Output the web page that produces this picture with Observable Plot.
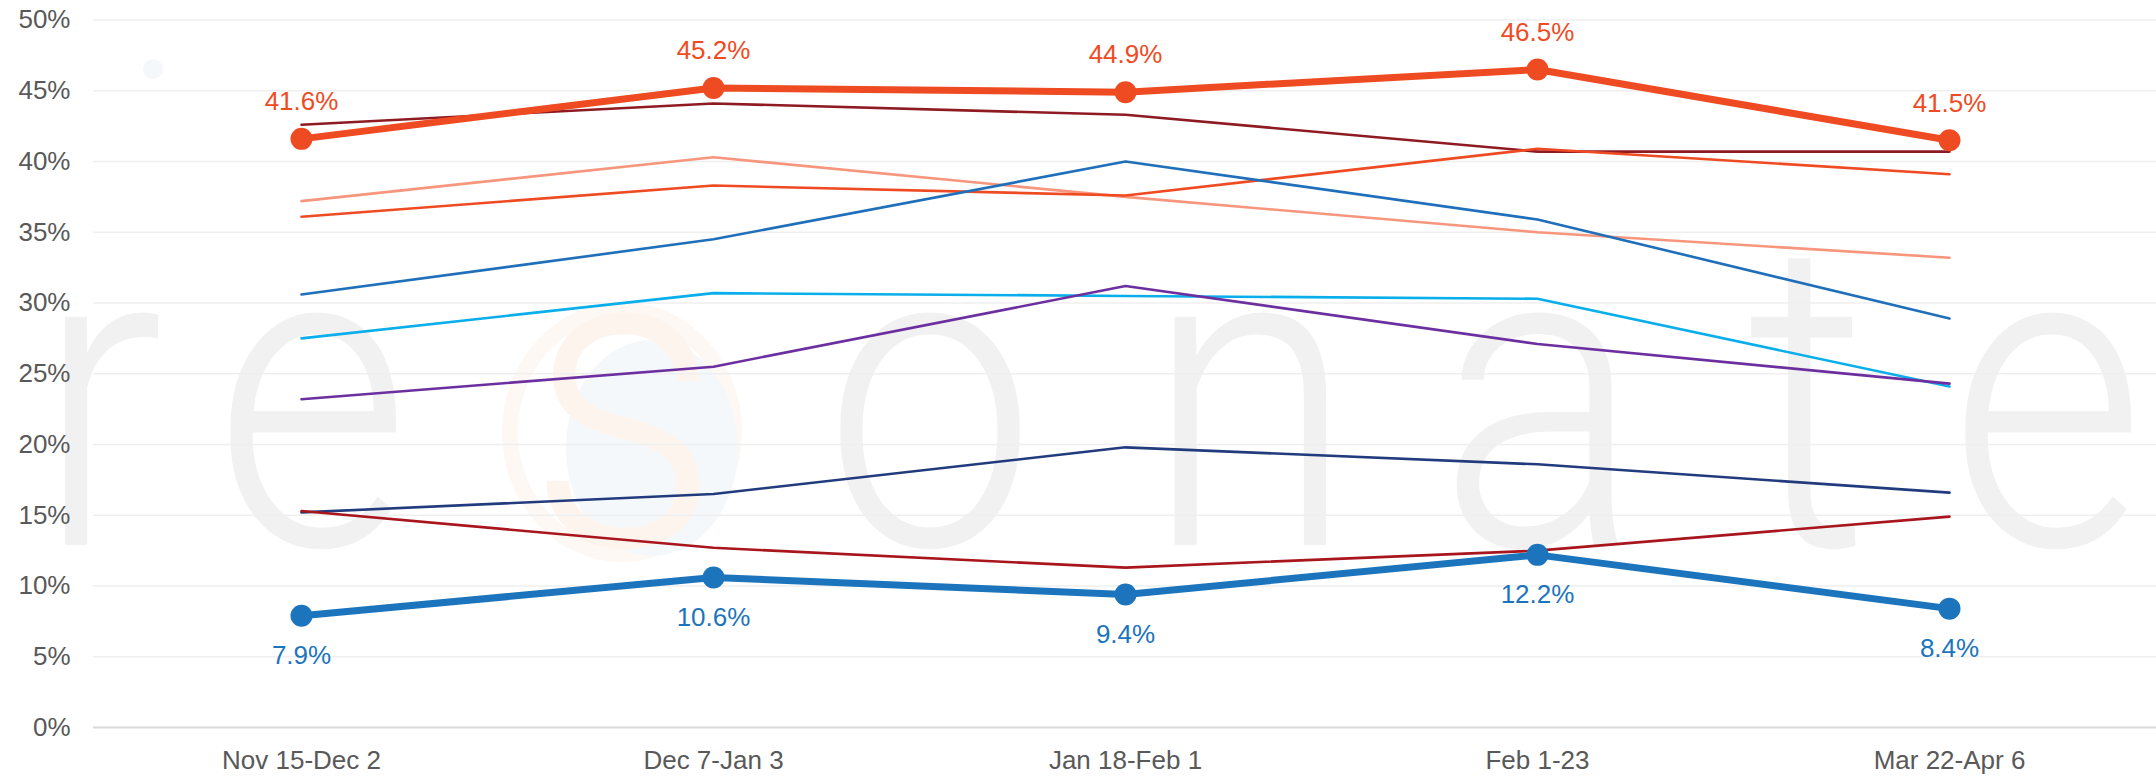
<!DOCTYPE html>
<html><head><meta charset="utf-8">
<script src="https://cdn.jsdelivr.net/npm/d3@7"></script>
<script src="https://cdn.jsdelivr.net/npm/@observablehq/plot@0.6"></script>
<style>body{margin:0;background:#fff;overflow:hidden;}</style>
</head><body><div id="chart"></div>
<script>
// ---- data ----
const periods = ["Nov 15-Dec 2", "Dec 7-Jan 3", "Jan 18-Feb 1", "Feb 1-23", "Mar 22-Apr 6"];
const yTicks = [0, 5, 10, 15, 20, 25, 30, 35, 40, 45, 50];

const highlightOrange = [41.6, 45.2, 44.9, 46.5, 41.5];
const highlightBlue   = [7.9, 10.6, 9.4, 12.2, 8.4];

const maroonSeries  = [42.6, 44.1, 43.3, 40.7, 40.7];
const salmonSeries  = [37.2, 40.3, 37.5, 35.0, 33.2];
const orangeSeries  = [36.1, 38.3, 37.6, 40.9, 39.1];
const blueSeries    = [30.6, 34.5, 40.0, 35.9, 28.9];
const cyanSeries    = [27.5, 30.7, 30.5, 30.3, 24.1];
const purpleSeries  = [23.2, 25.5, 31.2, 27.1, 24.3];
const navySeries    = [15.2, 16.5, 19.8, 18.6, 16.6];
const crimsonSeries = [15.3, 12.7, 11.3, 12.5, 14.9];

// watermark letters (decoration)
const watermarkLetters = ["r", "e", "s", "o", "n", "a", "t", "e"];

// ---- build tables ----
const thinDefs = [
  {name: "maroon", values: maroonSeries, color: "#8E1B22"},
  {name: "salmon", values: salmonSeries, color: "#F7967C"},
  {name: "orange", values: orangeSeries, color: "#EF4B23"},
  {name: "blue", values: blueSeries, color: "#1F6FBA"},
  {name: "cyan", values: cyanSeries, color: "#0AAEEA"},
  {name: "purple", values: purpleSeries, color: "#6B2FA0"},
  {name: "navy", values: navySeries, color: "#213B7D"},
  {name: "crimson", values: crimsonSeries, color: "#A8151D"}
];
const thinRows = thinDefs.flatMap(d => d.values.map((v, i) => ({series: d.name, period: periods[i], value: v, color: d.color})));
const orangeRows = highlightOrange.map((v, i) => ({period: periods[i], value: v}));
const blueRows = highlightBlue.map((v, i) => ({period: periods[i], value: v}));

const ORANGE = "#EF4B23", BLUE = "#1C75BC";

const chart = Plot.plot({
  width: 2156,
  height: 778,
  marginLeft: 93,
  marginRight: 0,
  marginTop: 19.5,
  marginBottom: 51,
  style: {fontFamily: "'Liberation Sans', Arial, sans-serif", fontSize: "26px", color: "#595959", background: "transparent"},
  x: {type: "point", domain: periods, padding: 0.5, label: null, tickSize: 0, tickPadding: 23},
  y: {domain: [0, 50], ticks: yTicks, tickFormat: d => d + "%", label: null, tickSize: 0, tickPadding: 23},
  marks: [
    Plot.ruleY(yTicks.filter(t => t > 0), {stroke: "#efefef", strokeWidth: 1.5}),
    Plot.ruleY([0], {stroke: "#d9d9d9", strokeWidth: 2}),
    Plot.line(thinRows, {x: "period", y: "value", z: "series", stroke: "color", strokeWidth: 2.6, curve: "linear"}),
    Plot.line(orangeRows, {x: "period", y: "value", stroke: ORANGE, strokeWidth: 7}),
    Plot.dot(orangeRows, {x: "period", y: "value", fill: ORANGE, r: 11}),
    Plot.text(orangeRows, {x: "period", y: "value", text: d => d.value.toFixed(1) + "%", fill: ORANGE, dy: -37, fontSize: 26}),
    Plot.line(blueRows, {x: "period", y: "value", stroke: BLUE, strokeWidth: 7}),
    Plot.dot(blueRows, {x: "period", y: "value", fill: BLUE, r: 11}),
    Plot.text(blueRows, {x: "period", y: "value", text: d => d.value.toFixed(1) + "%", fill: BLUE, dy: 40, fontSize: 26})
  ]
});

// ---- watermark behind everything ----
const svg = d3.select(chart);
const wm = svg.insert("g", ":first-child").attr("aria-label", "watermark");
wm.append("circle").attr("cx", 153).attr("cy", 69).attr("r", 10).attr("fill", "#f5f8fa");
// faint logo behind the "s"
wm.append("ellipse").attr("cx", 622).attr("cy", 432).attr("rx", 112).attr("ry", 122)
  .attr("fill", "none").attr("stroke", "#fef8f4").attr("stroke-width", 16);
wm.append("ellipse").attr("cx", 652).attr("cy", 448).attr("rx", 86).attr("ry", 108).attr("fill", "#f5f8fb");
const centers = [100, 312, 624, 930, 1250, 1540, 1808, 2047];
watermarkLetters.forEach((ch, i) => {
  wm.append("text")
    .attr("transform", `translate(${centers[i]},545) scale(0.88,1)`)
    .attr("text-anchor", "middle")
    .attr("font-family", "Roboto, 'Open Sans', sans-serif")
    .attr("font-weight", 300)
    .attr("font-size", 432)
    .attr("fill", ch === "s" ? "#fdf4ee" : "#f1f1f1")
    .text(ch);
});

document.getElementById("chart").appendChild(chart);
</script>
</body></html>
